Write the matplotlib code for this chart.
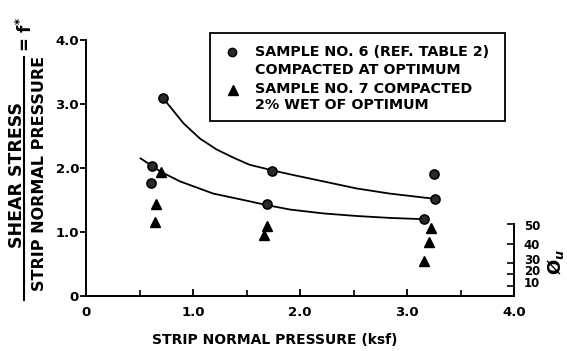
import matplotlib
matplotlib.use("Agg")
import matplotlib.pyplot as plt
from matplotlib.lines import Line2D
from matplotlib.patches import Rectangle

# ---- data ----
s6_x = [0.72, 0.62, 0.61, 1.74, 1.69, 3.25, 3.26, 3.16]
s6_y = [3.09, 2.03, 1.77, 1.95, 1.43, 1.91, 1.52, 1.20]
s7_x = [0.70, 0.65, 0.645, 1.69, 1.66, 3.22, 3.21, 3.16]
s7_y = [1.93, 1.44, 1.16, 1.10, 0.95, 1.07, 0.85, 0.54]

upper_x = [0.72, 0.785, 0.91, 1.065, 1.22, 1.38, 1.53, 1.75, 1.91, 2.22, 2.53, 2.84, 3.25]
upper_y = [3.09, 2.96, 2.70, 2.46, 2.29, 2.16, 2.05, 1.96, 1.90, 1.79, 1.68, 1.60, 1.52]
lower_x = [0.51, 0.62, 0.70, 0.88, 1.19, 1.50, 1.69, 1.91, 2.22, 2.53, 2.84, 3.16]
lower_y = [2.15, 2.03, 1.94, 1.79, 1.60, 1.49, 1.42, 1.35, 1.29, 1.25, 1.22, 1.20]

x_ticks = [0, 1, 2, 3, 4]
x_ticklabels = ["0", "1.0", "2.0", "3.0", "4.0"]
y_ticks = [0, 1, 2, 3, 4]
y_ticklabels = ["0", "1.0", "2.0", "3.0", "4.0"]
phi_labels = ["50", "40", "30", "20", "10"]

legend_lines = ["SAMPLE NO. 6 (REF. TABLE 2)", "COMPACTED AT OPTIMUM",
                "SAMPLE NO. 7 COMPACTED", "2% WET OF OPTIMUM"]

# ---- layout ----
phi_tick_pos = [1.12, 0.81, 0.51, 0.34, 0.16]
phi_label_pos = [1.11, 0.82, 0.58, 0.40, 0.22]

plt.rcParams['font.family'] = ['DejaVu Sans']
plt.rcParams['font.weight'] = 'bold'
fig = plt.figure(figsize=(5.67, 3.51), dpi=100)
ax = fig.add_axes([86/567, 1-296/351, 428/567, 256/351])

ax.set_xlim(0, 4)
ax.set_ylim(0, 4)
for s in ['top', 'right']:
    ax.spines[s].set_visible(False)
for s in ['left', 'bottom']:
    ax.spines[s].set_linewidth(1.4)

ax.set_xticks(x_ticks)
ax.set_xticklabels(x_ticklabels, fontsize=9.5)
ax.set_xticks([0.5, 1.5, 2.5, 3.5], minor=True)
ax.tick_params(axis='x', which='major', direction='in', length=5, width=1.3, pad=7)
ax.tick_params(axis='x', which='minor', direction='in', length=4, width=1.2)
ax.set_yticks(y_ticks)
ax.set_yticklabels(y_ticklabels, fontsize=9.5)
ax.tick_params(axis='y', which='major', direction='out', length=4, width=1.3, pad=1)

ax.plot(upper_x, upper_y, color='black', lw=1.3, zorder=2)
ax.plot(lower_x, lower_y, color='black', lw=1.3, zorder=2)
ax.plot(s6_x, s6_y, linestyle='none', marker='o', markersize=6.5,
        markerfacecolor='#2a2a2a', markeredgecolor='black', markeredgewidth=1.2, zorder=3)
ax.plot(s7_x, s7_y, linestyle='none', marker='^', markersize=7.5,
        markerfacecolor='black', markeredgecolor='black', zorder=3)

# phi_u secondary scale
ax2 = ax.twinx()
ax2.set_ylim(0, 4)
ax2.set_position(ax.get_position())
for s in ['top', 'left', 'bottom']:
    ax2.spines[s].set_visible(False)
ax2.spines['right'].set_bounds(0, 1.12)
ax2.spines['right'].set_linewidth(1.4)
ax2.set_yticks(phi_label_pos)
ax2.set_yticklabels(phi_labels, fontsize=8.5)
ax2.tick_params(axis='y', which='major', length=0, pad=7)
ax2.set_yticks(phi_tick_pos, minor=True)
ax2.tick_params(axis='y', which='minor', direction='in', length=5, width=1.2)
fig.text(555/567, 1-262/351, r'Ø$_u$', rotation=90, fontsize=13,
         ha='center', va='center', fontweight='bold')

# legend box (manual)
ax.add_patch(Rectangle((1.16, 2.73), 2.76, 1.38, fill=False, lw=1.3,
                       edgecolor='black', clip_on=False, zorder=4))
ax.plot([1.36], [3.81], marker='o', markersize=6, color='#2a2a2a',
        markeredgecolor='black', clip_on=False, zorder=5)
ax.plot([1.37], [3.22], marker='^', markersize=7, color='black',
        clip_on=False, zorder=5)
for txt, yy in zip(legend_lines, [3.81, 3.53, 3.23, 2.98]):
    ax.text(1.58, yy, txt, fontsize=10.3, va='center', ha='left', clip_on=False)

# axis labels
fig.text(275/567, 1-340/351, "STRIP NORMAL PRESSURE (ksf)", fontsize=10,
         ha='center', va='center')
fig.text(17/567, 1-175/351, "SHEAR STRESS", rotation=90, fontsize=12.5,
         ha='center', va='center')
fig.text(40/567, 1-173/351, "STRIP NORMAL PRESSURE", rotation=90, fontsize=11.5,
         ha='center', va='center')
fig.add_artist(Line2D([24/567, 24/567], [1-300/351, 1-57/351], color='black', lw=1.5))
fig.text(26/567, 1-35/351, r'= f$^{*}$', rotation=90, fontsize=12,
         ha='center', va='center', fontweight='bold')

fig.savefig('out.png', dpi=100)
